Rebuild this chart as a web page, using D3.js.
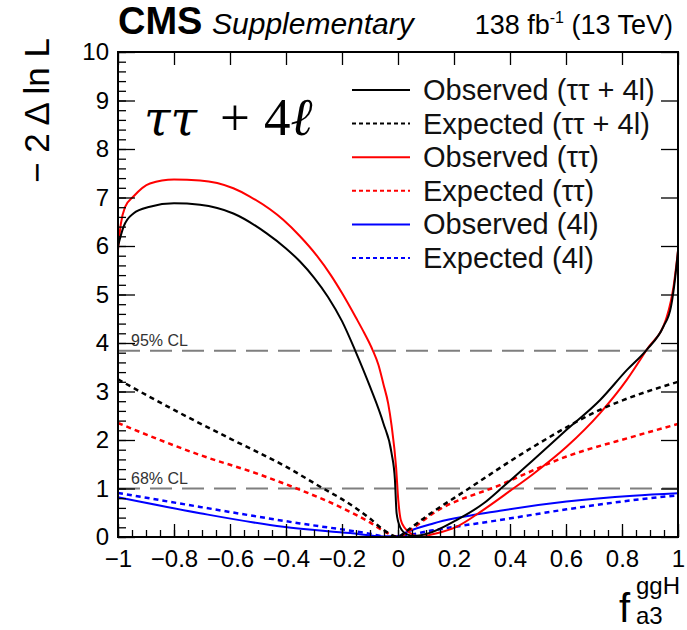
<!DOCTYPE html>
<html>
<head>
<meta charset="utf-8">
<script src="https://cdn.jsdelivr.net/npm/d3@7"></script>
<style>
  body { margin: 0; background: #fff; }
  svg text { font-family: "Liberation Sans", Arial, sans-serif; }
</style>
</head>
<body>
<svg id="chart" width="687" height="630"></svg>
<script>
// observed / expected scans, -2 Delta ln L vs f_a3^ggH
var obsComb_x = [-1, -0.98, -0.945, -0.886, -0.8, -0.707, -0.588, -0.469, -0.4, -0.35, -0.3, -0.25, -0.2, -0.154, -0.1, -0.052, -0.023, -0.011, -0.005, 0.007, 0.031, 0.06, 0.1, 0.209, 0.305, 0.376, 0.483, 0.602, 0.721, 0.817, 0.888, 0.948, 0.975, 0.99, 1]
var obsComb_y = [6.0, 6.40, 6.67, 6.81, 6.88, 6.85, 6.67, 6.26, 5.95, 5.68, 5.35, 4.95, 4.45, 3.86, 3.10, 2.34, 1.73, 1.18, 0.49, 0.21, 0.06, 0.02, 0.06, 0.35, 0.69, 1.04, 1.59, 2.21, 2.82, 3.44, 3.86, 4.34, 4.75, 5.35, 5.9]

var obsTT_x = [-1, -0.99, -0.975, -0.945, -0.886, -0.8, -0.707, -0.588, -0.529, -0.41, -0.35, -0.29, -0.24, -0.2, -0.15, -0.12, -0.091, -0.07, -0.052, -0.035, -0.023, -0.007, 0.001, 0.01, 0.025, 0.055, 0.08, 0.12, 0.209, 0.305, 0.4, 0.483, 0.602, 0.721, 0.817, 0.888, 0.96, 0.985, 1]
var obsTT_y = [5.92, 6.45, 6.8, 7.02, 7.29, 7.37, 7.35, 7.19, 7.02, 6.54, 6.2, 5.8, 5.4, 5.03, 4.52, 4.2, 3.86, 3.55, 3.15, 2.75, 2.3, 1.45, 0.76, 0.35, 0.18, 0.04, 0.0, 0.05, 0.21, 0.56, 0.95, 1.3, 1.86, 2.55, 3.24, 3.86, 4.54, 5.2, 5.9]

var obs4l_x = [-1, -0.707, -0.41, -0.171, -0.05, 0, 0.03, 0.126, 0.364, 0.602, 0.84, 1]
var obs4l_y = [0.82, 0.49, 0.21, 0.08, 0.01, 0.02, 0.1, 0.28, 0.54, 0.73, 0.85, 0.9]

var expComb_x = [-1, -0.8, -0.6, -0.4, -0.267, -0.2, -0.1, -0.05, 0, 0.03, 0.1, 0.245, 0.483, 0.721, 1]
var expComb_y = [3.25, 2.62, 2.03, 1.45, 1.0, 0.78, 0.38, 0.14, 0.0, 0.12, 0.42, 0.97, 1.86, 2.62, 3.2]

var expTT_x = [-1, -0.707, -0.5, -0.362, -0.2, -0.1, -0.05, 0, 0.05, 0.126, 0.364, 0.602, 0.84, 1]
var expTT_y = [2.35, 1.69, 1.3, 1.0, 0.6, 0.3, 0.12, 0.0, 0.17, 0.49, 1.07, 1.66, 2.07, 2.33]

var exp4l_x = [-1, -0.707, -0.35, -0.112, -0.03, 0, 0.126, 0.364, 0.602, 0.84, 1]
var exp4l_y = [0.91, 0.62, 0.28, 0.08, 0.0, 0.01, 0.14, 0.35, 0.57, 0.76, 0.86]

var legendLabels = ['Observed (\u03c4\u03c4 + 4l)', 'Expected (\u03c4\u03c4 + 4l)', 'Observed (\u03c4\u03c4)', 'Expected (\u03c4\u03c4)', 'Observed (4l)', 'Expected (4l)']
var clLevels = [3.84, 1]
var clLabels = ['95% CL', '68% CL']
var xTicks = [-1, -0.8, -0.6, -0.4, -0.2, 0, 0.2, 0.4, 0.6, 0.8, 1]
var yTicks = [0, 1, 2, 3, 4, 5, 6, 7, 8, 9, 10]

var series = [
  {xs: obsComb_x, ys: obsComb_y, color: '#000000', dashed: false},
  {xs: expComb_x, ys: expComb_y, color: '#000000', dashed: true},
  {xs: obsTT_x, ys: obsTT_y, color: '#ff0000', dashed: false},
  {xs: expTT_x, ys: expTT_y, color: '#ff0000', dashed: true},
  {xs: obs4l_x, ys: obs4l_y, color: '#0000ff', dashed: false},
  {xs: exp4l_x, ys: exp4l_y, color: '#0000ff', dashed: true}
]

;(function(){
var pL = 118, pR = 678, pT = 52, pB = 537
var svg = d3.select('#chart')
var x = d3.scaleLinear().domain([-1, 1]).range([pL, pR])
var y = d3.scaleLinear().domain([0, 10]).range([pB, pT])

svg.append('defs').append('clipPath').attr('id', 'plotclip')
  .append('rect').attr('x', pL).attr('y', pT).attr('width', pR - pL).attr('height', pB - pT)

// CL lines
clLevels.forEach(function(v, i){
  svg.append('line')
    .attr('x1', pL).attr('x2', pR)
    .attr('y1', y(v)).attr('y2', y(v))
    .attr('stroke', '#7f7f7f').attr('stroke-width', 2)
    .attr('stroke-dasharray', '22,10')
  svg.append('text')
    .attr('x', pL + 13).attr('y', y(v) - 5)
    .attr('font-size', 16).attr('fill', '#333')
    .text(clLabels[i])
})

var line = d3.line()
  .x(function(d){ return x(d[0]) })
  .y(function(d){ return y(d[1]) })
  .curve(d3.curveMonotoneX)

var g = svg.append('g').attr('clip-path', 'url(#plotclip)')
// draw in reverse so observed combined sits on top
series.slice().reverse().forEach(function(s){
  var pts = s.xs.map(function(v, i){ return [v, s.ys[i]] })
  g.append('path').datum(pts)
    .attr('d', line)
    .attr('fill', 'none')
    .attr('stroke', s.color)
    .attr('stroke-width', s.dashed ? 2.5 : 2)
    .attr('stroke-dasharray', s.dashed ? '5,4' : null)
})

// axes: ROOT style ticks inside on all four sides
var xMinor = d3.range(-1, 1.0001, 0.05).map(function(v){ return Math.round(v * 100) / 100 })
var yMinor = d3.range(0, 10.0001, 0.2).map(function(v){ return Math.round(v * 10) / 10 })
var fmt = function(d){ return d === 0 ? '0' : String(d).replace('-', '\u2212') }

var gx = svg.append('g').attr('transform', 'translate(0,' + pB + ')')
gx.call(d3.axisBottom(x).tickValues(xMinor).tickSize(-7).tickFormat(''))
var gx2 = svg.append('g').attr('transform', 'translate(0,' + pB + ')')
gx2.call(d3.axisBottom(x).tickValues(xTicks).tickSizeInner(-13).tickSizeOuter(0).tickPadding(8).tickFormat(fmt))
gx2.attr('font-size', 24).attr('font-family', null)
gx2.selectAll('text').attr('dy', '0.9em').attr('fill', '#000')

var gxt = svg.append('g').attr('transform', 'translate(0,' + pT + ')')
gxt.call(d3.axisTop(x).tickValues(xMinor).tickSize(-7).tickFormat(''))
gxt.call(d3.axisTop(x).tickValues(xTicks).tickSize(-13).tickFormat(''))

var gy = svg.append('g').attr('transform', 'translate(' + pL + ',0)')
gy.call(d3.axisLeft(y).tickValues(yMinor).tickSize(-8).tickFormat(''))
var gy2 = svg.append('g').attr('transform', 'translate(' + pL + ',0)')
gy2.call(d3.axisLeft(y).tickValues(yTicks).tickSizeInner(-17).tickSizeOuter(0).tickPadding(8))
gy2.attr('font-size', 24).attr('font-family', null)
gy2.selectAll('text').attr('x', -9).attr('fill', '#000')

var gyr = svg.append('g').attr('transform', 'translate(' + pR + ',0)')
gyr.call(d3.axisRight(y).tickValues(yMinor).tickSize(-8).tickFormat(''))
gyr.call(d3.axisRight(y).tickValues(yTicks).tickSize(-17).tickFormat(''))

svg.selectAll('.domain').remove()
svg.selectAll('.tick line').attr('stroke', '#000').attr('stroke-width', 1.3)

svg.append('rect')
  .attr('x', pL).attr('y', pT).attr('width', pR - pL).attr('height', pB - pT)
  .attr('fill', 'none').attr('stroke', '#000').attr('stroke-width', 2)

// legend
var leg = svg.append('g')
series.forEach(function(s, i){
  var yy = 90 + i * 33.6
  leg.append('line')
    .attr('x1', 352).attr('x2', 410).attr('y1', yy).attr('y2', yy)
    .attr('stroke', s.color).attr('stroke-width', 2)
    .attr('stroke-dasharray', s.dashed ? '4,3' : null)
  leg.append('text')
    .attr('x', 423).attr('y', yy + 10)
    .attr('font-size', 29).attr('fill', '#111')
    .text(legendLabels[i])
})

// header
svg.append('text').attr('x', 118).attr('y', 34)
  .attr('font-size', 38).attr('font-weight', 'bold').text('CMS')
svg.append('text').attr('x', 212).attr('y', 34)
  .attr('font-size', 30).attr('font-style', 'italic').text('Supplementary')
var lumi = svg.append('text').attr('x', 673).attr('y', 34)
  .attr('font-size', 27).attr('text-anchor', 'end')
lumi.append('tspan').text('138 fb')
lumi.append('tspan').attr('font-size', 16).attr('dy', -11).text('-1')
lumi.append('tspan').attr('dy', 11).text(' (13 TeV)')

// channel label
var ch = svg.append('text').attr('y', 135)
  .attr('font-size', 53).style('font-family', '"Liberation Serif", "DejaVu Serif", serif')
ch.append('tspan').attr('x', 144).attr('font-style', 'italic')
  .style('font-family', '"DejaVu Serif", serif').attr('font-size', 48).text('\u03c4\u03c4')
ch.append('tspan').attr('x', 220).text('+')
ch.append('tspan').attr('x', 264).text('4')
ch.append('tspan').attr('font-style', 'italic').text('\u2113')

// y title
svg.append('text')
  .attr('transform', 'translate(49,38) rotate(-90)')
  .attr('text-anchor', 'end').attr('font-size', 35)
  .text('\u2212 2 \u0394 ln L')

// x title
svg.append('text').attr('x', 619).attr('y', 622).attr('font-size', 40).text('f')
svg.append('text').attr('x', 636).attr('y', 594).attr('font-size', 24).text('ggH')
svg.append('text').attr('x', 636).attr('y', 624).attr('font-size', 24).text('a3')
})()
</script>
</body>
</html>
